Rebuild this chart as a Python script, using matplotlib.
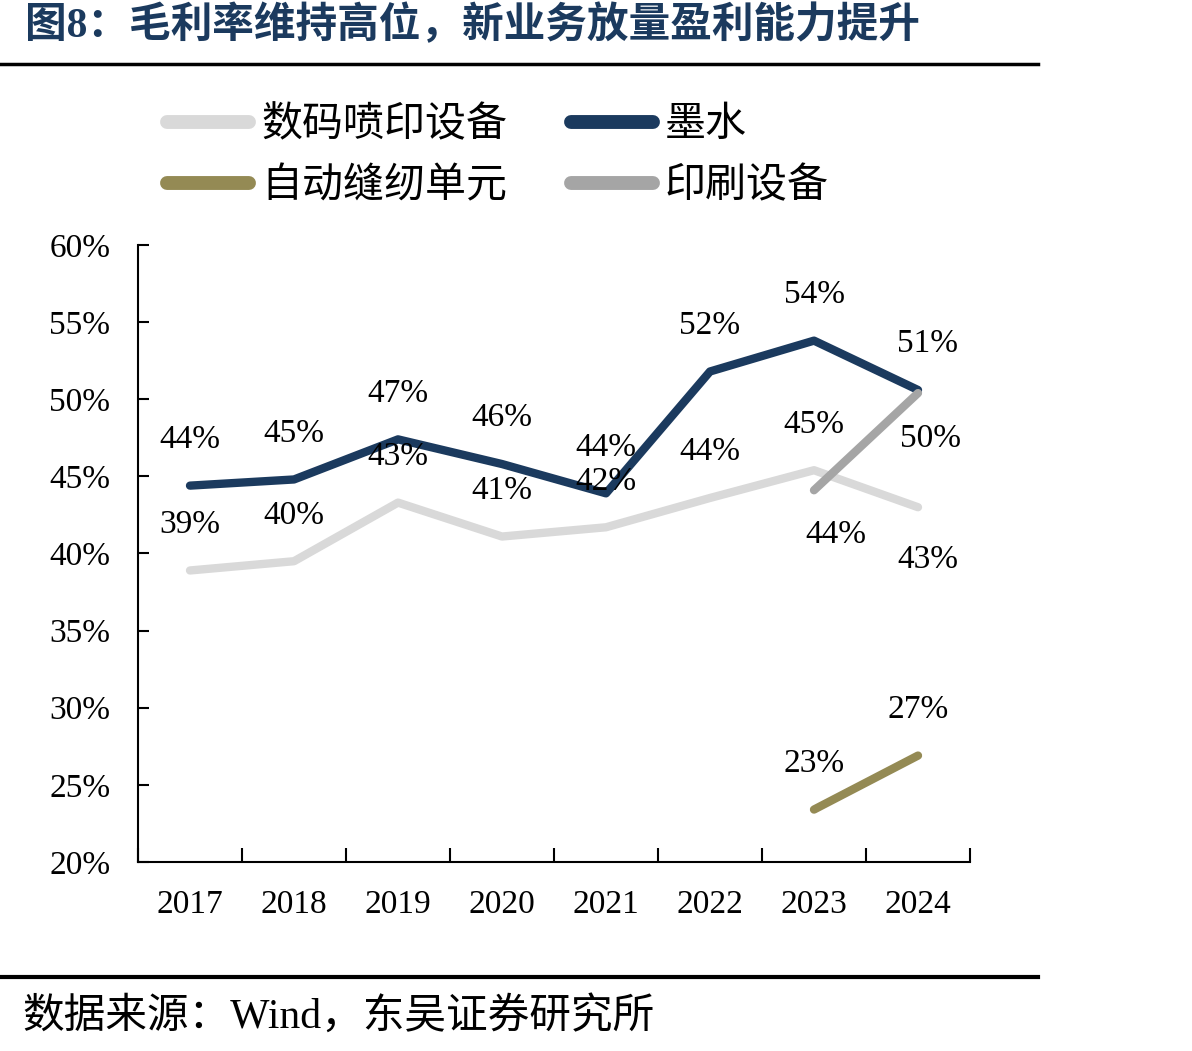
import matplotlib
matplotlib.use("Agg")
from matplotlib import pyplot as plt
from matplotlib.lines import Line2D

# data (gross margin, %)
years = ["2017", "2018", "2019", "2020", "2021", "2022", "2023", "2024"]
digital_print = [38.9, 39.5, 43.3, 41.1, 41.7, 43.6, 45.4, 43.0]
ink = [44.4, 44.8, 47.4, 45.8, 43.9, 51.8, 53.8, 50.6]
sewing_years = ["2023", "2024"]
sewing = [23.4, 26.9]
printing_years = ["2023", "2024"]
printing = [44.1, 50.4]

y_ticks = [20, 25, 30, 35, 40, 45, 50, 55, 60]

NAVY = "#1b3a5e"
LIGHT = "#d9d9d9"
OLIVE = "#948a54"
GRAY = "#a5a5a5"

CJK = ["Noto Sans CJK SC", "DejaVu Sans"]
SERIF = ["Liberation Serif", "Noto Sans CJK SC"]

fig = plt.figure(figsize=(11.92, 10.51), dpi=100)
ax = fig.add_axes([138 / 1192, 1 - 862 / 1051, (970 - 138) / 1192, (862 - 245) / 1051])

x_all = list(range(len(years)))
x_new = [years.index(y) for y in sewing_years]
x_pr = [years.index(y) for y in printing_years]

lw = 6
ax.plot(x_all, digital_print, color=LIGHT, lw=lw, solid_capstyle="round", solid_joinstyle="round", label="数码喷印设备")
ax.plot(x_all, ink, color=NAVY, lw=lw, solid_capstyle="round", solid_joinstyle="round", label="墨水")
ax.plot(x_new, sewing, color=OLIVE, lw=lw, solid_capstyle="round", solid_joinstyle="round", label="自动缝纫单元")
ax.plot(x_pr, printing, color=GRAY, lw=lw, solid_capstyle="round", solid_joinstyle="round", label="印刷设备")


def label(x, v, dx=0, dy=33):
    ax.annotate(f"{v:.0f}%", (x, v), xytext=(dx, dy), textcoords="offset points",
                ha="center", va="center", fontsize=24, family=SERIF, color="black")


for i, v in enumerate(digital_print):
    if i == len(digital_print) - 1:
        label(i, v, dx=7, dy=-38)
    else:
        label(i, v)
for i, v in enumerate(ink):
    label(i, v, dx=7 if i == len(ink) - 1 else 0)
for i, v in zip(x_new, sewing):
    label(i, v)
label(x_pr[0], printing[0], dx=16, dy=-32)
label(x_pr[1], printing[1], dx=9, dy=-33)

ax.set_xlim(-0.5, len(years) - 0.5)
ax.set_ylim(20, 60)
ax.set_yticks(y_ticks)
ax.set_yticklabels([f"{t}%" for t in y_ticks], family=SERIF, fontsize=24)
ax.set_xticks([i + 0.5 for i in range(-1, len(years))], minor=False)
ax.set_xticklabels([])
ax.set_xticks(x_all, minor=True)
ax.set_xticklabels(years, minor=True, family=SERIF, fontsize=24)
ax.tick_params(axis="x", which="major", direction="in", length=10, width=1.5)
ax.tick_params(axis="x", which="minor", length=0, pad=20)
ax.tick_params(axis="y", direction="in", length=8, width=1.5, pad=20)
ax.spines["top"].set_visible(False)
ax.spines["right"].set_visible(False)
ax.spines["left"].set_linewidth(1.5)
ax.spines["bottom"].set_linewidth(1.5)

handles = [
    Line2D([], [], color=LIGHT, lw=10, solid_capstyle="round"),
    Line2D([], [], color=OLIVE, lw=10, solid_capstyle="round"),
    Line2D([], [], color=NAVY, lw=10, solid_capstyle="round"),
    Line2D([], [], color=GRAY, lw=10, solid_capstyle="round"),
]
names = ["数码喷印设备", "自动缝纫单元", "墨水", "印刷设备"]
fig.legend(handles, names, loc="upper left", bbox_to_anchor=(167 / 1192, 1 - 104 / 1051),
           ncol=2, frameon=False, prop={"family": CJK, "size": 29.5}, borderpad=0,
           handlelength=2.0, handletextpad=0.3, columnspacing=1.55, labelspacing=0.5,
           borderaxespad=0)

# title and rules
fig.text(25 / 1192, 1 - 25 / 1051, "图8：毛利率维持高位，新业务放量盈利能力提升", family=SERIF,
         fontsize=30, fontweight="bold", color=NAVY, ha="left", va="center")
fig.add_artist(Line2D([0, 1038 / 1192], [1 - 64 / 1051] * 2, color="black", lw=2.5))
fig.add_artist(Line2D([0, 1038 / 1192], [1 - 977 / 1051] * 2, color="black", lw=3))
fig.text(22 / 1192, 1 - 1017 / 1051, "数据来源：Wind，东吴证券研究所", family=SERIF,
         fontsize=30, color="black", ha="left", va="center")

fig.savefig("out.png", dpi=100)
